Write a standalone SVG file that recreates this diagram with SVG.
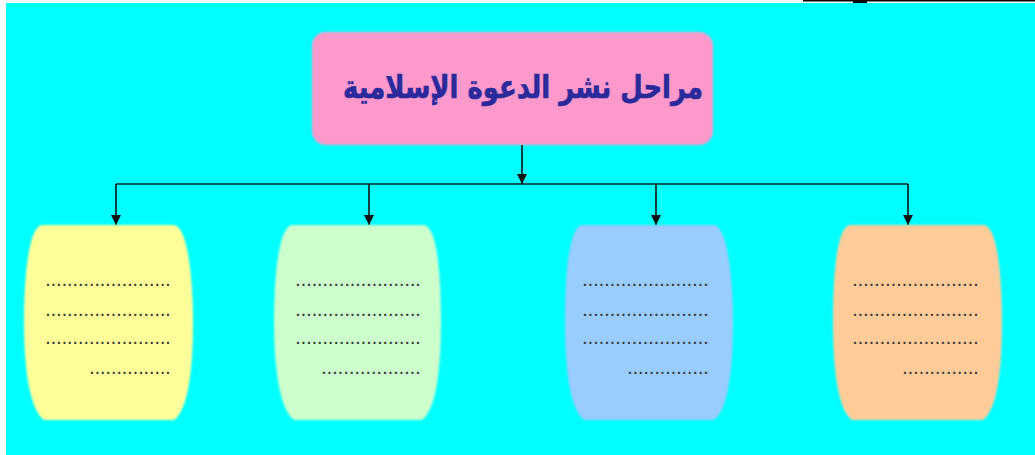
<svg xmlns="http://www.w3.org/2000/svg" width="1035" height="455" viewBox="0 0 1035 455">
  <defs>
    <style>
      .conn { stroke: #102020; stroke-width: 1.7; fill: none; }
      .dots { font-family: "Liberation Sans", "DejaVu Sans", sans-serif; font-size: 14px; font-weight: bold; fill: #3a3a3a; }
      .title { font-family: "DejaVu Sans", "Noto Sans", sans-serif; font-weight: bold; font-size: 32px; fill: #2a2a9c; stroke: #2a2a9c; stroke-width: 0.7; }
    </style>
    <marker id="arr" viewBox="0 0 10 10" refX="10" refY="5" markerWidth="11" markerHeight="10" markerUnits="userSpaceOnUse" orient="auto">
      <path d="M0,0 L10,5 L0,10 Z" fill="#111"/>
    </marker>
    <filter id="soft" x="-5%" y="-5%" width="110%" height="110%">
      <feGaussianBlur stdDeviation="1.2"/>
    </filter>
  </defs>

  <rect x="0" y="0" width="1035" height="455" fill="#ffffff"/>
  <rect x="6" y="3" width="1029" height="452" fill="#00ffff"/>
  <line x1="803" y1="0.8" x2="1035" y2="0.8" stroke="#000" stroke-width="1.6"/>
  <rect x="853" y="0" width="14" height="3" fill="#000"/>

  <g id="title-node">
    <rect x="312" y="32" width="401" height="113" rx="14" fill="#ff99cc" filter="url(#soft)"/>
    <text class="title" x="523" y="98" text-anchor="middle" direction="rtl" textLength="360" lengthAdjust="spacingAndGlyphs">مراحل نشر الدعوة الإسلامية</text>
  </g>

  <g id="connectors">
    <line class="conn" x1="522" y1="145" x2="522" y2="184" marker-end="url(#arr)"/>
    <line class="conn" x1="116" y1="184" x2="908" y2="184"/>
    <line class="conn" x1="116" y1="184" x2="116" y2="225" marker-end="url(#arr)"/>
    <line class="conn" x1="369" y1="184" x2="369" y2="225" marker-end="url(#arr)"/>
    <line class="conn" x1="656" y1="184" x2="656" y2="225" marker-end="url(#arr)"/>
    <line class="conn" x1="908" y1="184" x2="908" y2="225" marker-end="url(#arr)"/>
  </g>

  <g id="box1">
    <path d="M42,225 H174 C188,227 193,280 193,322 C193,370 188,410 174,420 H44 C30,410 24,370 24,322 C24,280 28,227 42,225 Z" fill="#ffff99" filter="url(#soft)"/>
    <text class="dots" x="46" y="286" textLength="124" lengthAdjust="spacing">.......................</text>
    <text class="dots" x="46" y="316" textLength="124" lengthAdjust="spacing">.......................</text>
    <text class="dots" x="46" y="344" textLength="124" lengthAdjust="spacing">.......................</text>
    <text class="dots" x="90" y="374" textLength="80" lengthAdjust="spacing">...............</text>
  </g>

  <g id="box2">
    <path d="M292,225 H424 C438,227 441,280 441,322 C441,370 436,410 422,420 H294 C280,410 274,370 274,322 C274,280 278,227 292,225 Z" fill="#ccffcc" filter="url(#soft)"/>
    <text class="dots" x="296" y="286" textLength="124" lengthAdjust="spacing">.......................</text>
    <text class="dots" x="296" y="316" textLength="124" lengthAdjust="spacing">.......................</text>
    <text class="dots" x="296" y="344" textLength="124" lengthAdjust="spacing">.......................</text>
    <text class="dots" x="322" y="374" textLength="98" lengthAdjust="spacing">..................</text>
  </g>

  <g id="box3">
    <path d="M582,225 H714 C728,227 733,280 733,322 C733,370 728,410 714,420 H584 C570,410 565,370 565,322 C565,280 568,227 582,225 Z" fill="#99ccff" filter="url(#soft)"/>
    <text class="dots" x="583" y="286" textLength="125" lengthAdjust="spacing">.......................</text>
    <text class="dots" x="583" y="316" textLength="125" lengthAdjust="spacing">.......................</text>
    <text class="dots" x="583" y="344" textLength="125" lengthAdjust="spacing">.......................</text>
    <text class="dots" x="628" y="374" textLength="80" lengthAdjust="spacing">...............</text>
  </g>

  <g id="box4">
    <path d="M850,225 H984 C998,227 1002,280 1002,322 C1002,370 997,410 983,420 H852 C838,410 833,370 833,322 C833,280 836,227 850,225 Z" fill="#ffcc99" filter="url(#soft)"/>
    <text class="dots" x="853" y="286" textLength="125" lengthAdjust="spacing">.......................</text>
    <text class="dots" x="853" y="316" textLength="125" lengthAdjust="spacing">.......................</text>
    <text class="dots" x="853" y="344" textLength="125" lengthAdjust="spacing">.......................</text>
    <text class="dots" x="903" y="374" textLength="75" lengthAdjust="spacing">..............</text>
  </g>
</svg>
